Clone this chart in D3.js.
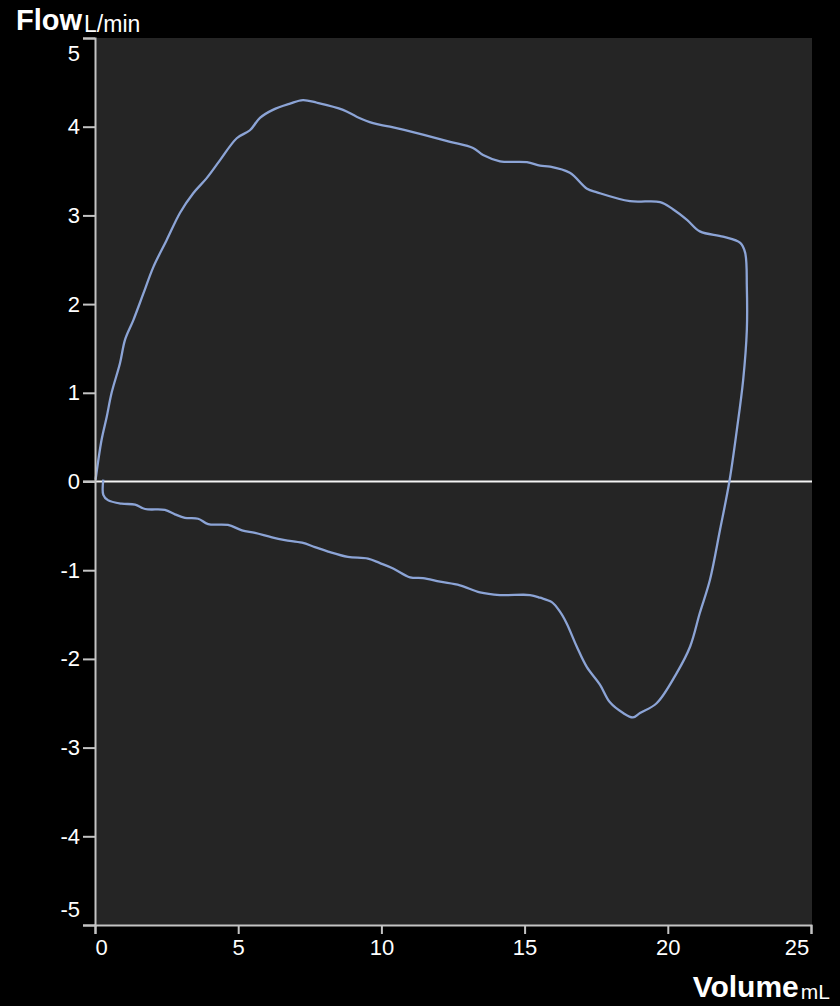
<!DOCTYPE html>
<html>
<head>
<meta charset="utf-8">
<script src="https://cdn.jsdelivr.net/npm/d3@7"></script>
<style>
  html, body { margin: 0; padding: 0; background: #000; }
  svg { display: block; }
  text { font-family: "Liberation Sans", Arial, sans-serif; fill: #fff; }
</style>
</head>
<body>
<svg id="chart" width="840" height="1006"></svg>
<script>
// Flow-volume loop: volume (mL) against flow (L/min)
const volume = [
  0.02, 0.23, 0.41, 0.58, 0.87, 1.05, 1.34, 1.69, 2.04, 2.50, 2.97, 3.43, 3.90, 4.36, 4.95,
  5.41, 5.76, 6.21, 6.81, 7.26, 7.75, 8.66, 9.15, 9.71, 10.30, 11.45, 12.40, 13.20, 13.55,
  14.14, 15.08, 15.54, 15.89, 16.58, 17.18, 17.53, 18.68, 19.73, 20.18, 20.67, 21.12, 21.93,
  22.53, 22.70, 22.76, 22.76, 22.63, 22.41, 22.15, 21.82, 21.47, 21.12, 20.78, 20.31, 19.61,
  19.03, 18.78, 18.44, 17.98, 17.63, 17.17, 16.82, 16.47, 16.24, 15.95, 15.54, 15.19, 14.14,
  13.44, 12.74, 12.05, 11.45, 11.00, 10.41, 9.95, 9.53, 8.83, 8.14, 7.68, 7.23, 6.63, 6.18,
  5.59, 5.13, 4.64, 3.95, 3.60, 3.14, 2.79, 2.44, 1.75, 1.40, 0.93, 0.45, 0.29, 0.29
];
const flow = [
  0.02, 0.47, 0.73, 1.00, 1.33, 1.60, 1.82, 2.12, 2.42, 2.72, 3.03, 3.25, 3.42, 3.62, 3.87,
  3.96, 4.10, 4.19, 4.26, 4.30, 4.27, 4.19, 4.11, 4.04, 4.00, 3.91, 3.83, 3.76, 3.68,
  3.61, 3.60, 3.56, 3.55, 3.48, 3.30, 3.26, 3.16, 3.15, 3.07, 2.95, 2.82, 2.76,
  2.69, 2.58, 2.19, 1.71, 1.14, 0.58, 0.00, -0.55, -1.11, -1.48, -1.86, -2.16, -2.50,
  -2.61, -2.66, -2.61, -2.49, -2.29, -2.09, -1.86, -1.60, -1.47, -1.36, -1.31, -1.28, -1.28,
  -1.25, -1.17, -1.13, -1.09, -1.08, -0.98, -0.92, -0.87, -0.85, -0.79, -0.74, -0.69, -0.66, -0.63,
  -0.58, -0.55, -0.49, -0.48, -0.42, -0.41, -0.37, -0.32, -0.31, -0.26, -0.25, -0.21, -0.15, 0.02
];
const xTicks = [0, 5, 10, 15, 20, 25];
const yTicks = [5, 4, 3, 2, 1, 0, -1, -2, -3, -4, -5];

const plotLeft = 95, plotRight = 811, plotTop = 38, plotBottom = 925;
const svg = d3.select("#chart");

const x = d3.scaleLinear().domain([0, 25]).range([plotLeft, plotRight]);
const y = d3.scaleLinear().domain([-5, 5]).range([plotBottom, plotTop]);

// plot area
svg.append("rect")
  .attr("x", plotLeft).attr("y", plotTop)
  .attr("width", plotRight - plotLeft + 1).attr("height", plotBottom - plotTop)
  .attr("fill", "#252525");

// zero flow line
svg.append("line")
  .attr("x1", plotLeft - 12).attr("x2", plotRight + 1)
  .attr("y1", y(0)).attr("y2", y(0))
  .attr("stroke", "#f4f4f4").attr("stroke-width", 2);

// loop trace
const pts = volume.map((v, i) => [v, flow[i]]);
svg.append("path")
  .datum(pts)
  .attr("fill", "none")
  .attr("stroke", "#8ca4d6")
  .attr("stroke-width", 2.3)
  .attr("stroke-linejoin", "round")
  .attr("d", d3.line().curve(d3.curveCatmullRom.alpha(0.5)).x(d => x(d[0])).y(d => y(d[1])));

// axes (plain hyphen for negatives)
const fmt = d => String(d);
const yAxis = svg.append("g")
  .attr("transform", `translate(${plotLeft},0)`)
  .call(d3.axisLeft(y).tickValues(yTicks).tickFormat(fmt).tickSize(12).tickSizeOuter(12).tickPadding(3));
const xAxis = svg.append("g")
  .attr("transform", `translate(0,${plotBottom})`)
  .call(d3.axisBottom(x).tickValues(xTicks).tickFormat(fmt).tickSize(9).tickSizeOuter(9).tickPadding(5));

[yAxis, xAxis].forEach(g => {
  g.selectAll("path.domain, .tick line").attr("stroke", "#c4c4c4").attr("stroke-width", 2);
  g.selectAll("text")
    .style("font-family", '"Liberation Sans", Arial, sans-serif')
    .style("font-size", "22px").attr("fill", "#fff");
});

// keep end labels inside the axis extent
yAxis.selectAll(".tick text").filter(d => d === 5).attr("dy", "1.0em");
yAxis.selectAll(".tick text").filter(d => d === -5).attr("dy", "-0.4em");
xAxis.selectAll(".tick text").filter(d => d === 0).attr("text-anchor", "start").attr("dx", "0");
xAxis.selectAll(".tick text").filter(d => d === 25).attr("text-anchor", "end").attr("dx", "-0.1em");

// axis titles
const yTitle = svg.append("text").attr("x", 16).attr("y", 30);
yTitle.append("tspan").text("Flow").style("font-weight", "bold").style("font-size", "29px");
yTitle.append("tspan").text("L/min").attr("dx", 2).attr("dy", 2).style("font-size", "23px");

const xTitle = svg.append("text").attr("x", 830).attr("y", 997).attr("text-anchor", "end");
xTitle.append("tspan").text("Volume").style("font-weight", "bold").style("font-size", "30px");
xTitle.append("tspan").text("mL").attr("dx", 2).attr("dy", 2).style("font-size", "21px");
</script>
</body>
</html>
